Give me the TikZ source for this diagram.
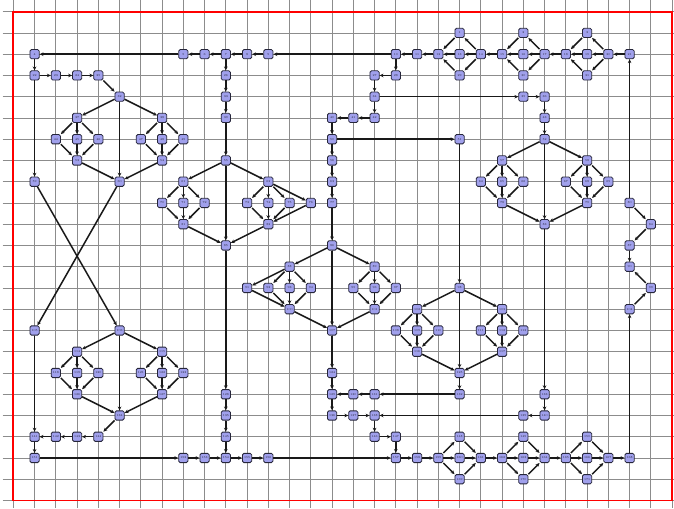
\documentclass[tikz,border=0pt]{standalone}
\usepackage{xcolor}
\usepackage{tikz}
\usetikzlibrary{arrows.meta}
\definecolor{blkfill}{HTML}{A0A0EC}
\definecolor{blkline}{HTML}{26263A}

\tikzset{
  blk/.style={draw=blkline, fill=blkfill, rounded corners=1pt, line width=0.55pt,
              minimum size=6.2pt, inner sep=0pt, text=blkline,
              font=\fontsize{2}{2}\selectfont},
  flow/.style={-{Stealth[length=2.6pt,width=2.4pt]}, line width=1pt, black!90},
  gridline/.style={gray!90, line width=0.55pt},
  frame/.style={red, line width=1.1pt},
}

\begin{document}
\begin{tikzpicture}[x=0.5cm, y=0.5cm]
\useasboundingbox (-0.626,0.551) rectangle (31.09,-23.355);

\foreach \k in {0,...,31}
  \draw[gridline] (\k,0.551) -- (\k,-23.355);
\foreach \k in {0,...,23}
  \draw[gridline] (-0.5,-\k) -- (31.09,-\k);

% blocks, named after their column and row
\foreach \cx/\ry [count=\i] in {
  21/1, 24/1, 27/1,
  1/2, 8/2, 9/2, 10/2, 11/2, 12/2, 18/2, 19/2, 20/2, 21/2, 22/2, 23/2, 24/2, 25/2, 26/2, 27/2, 28/2, 29/2,
  1/3, 2/3, 3/3, 4/3, 10/3, 17/3, 18/3, 21/3, 24/3, 27/3,
  5/4, 10/4, 17/4, 24/4, 25/4,
  3/5, 7/5, 10/5, 15/5, 16/5, 17/5, 25/5,
  2/6, 3/6, 4/6, 6/6, 7/6, 8/6, 15/6, 21/6, 25/6,
  3/7, 7/7, 10/7, 15/7, 23/7, 27/7,
  1/8, 5/8, 8/8, 12/8, 15/8, 22/8, 23/8, 24/8, 26/8, 27/8, 28/8,
  7/9, 8/9, 9/9, 11/9, 12/9, 13/9, 14/9, 15/9, 23/9, 27/9, 29/9,
  8/10, 12/10, 25/10, 30/10,
  10/11, 15/11, 29/11,
  13/12, 17/12, 29/12,
  11/13, 12/13, 13/13, 14/13, 16/13, 17/13, 18/13, 21/13, 30/13,
  13/14, 17/14, 19/14, 23/14, 29/14,
  1/15, 5/15, 15/15, 18/15, 19/15, 20/15, 22/15, 23/15, 24/15,
  3/16, 7/16, 19/16, 23/16,
  2/17, 3/17, 4/17, 6/17, 7/17, 8/17, 15/17, 21/17,
  3/18, 7/18, 10/18, 15/18, 16/18, 17/18, 21/18, 25/18,
  5/19, 10/19, 15/19, 16/19, 17/19, 24/19, 25/19,
  1/20, 2/20, 3/20, 4/20, 10/20, 17/20, 18/20, 21/20, 24/20, 27/20,
  1/21, 8/21, 9/21, 10/21, 11/21, 12/21, 18/21, 19/21, 20/21, 21/21, 22/21, 23/21, 24/21, 25/21, 26/21, 27/21, 28/21, 29/21,
  21/22, 24/22, 27/22}
  \node[blk] (c\cx r\ry) at (\cx,-\ry) {\i};

% top row, right to left
\foreach \a/\b in {
  c29r2/c28r2, c28r2/c27r1, c28r2/c27r2, c28r2/c27r3, c27r1/c26r2, c27r2/c26r2, c27r3/c26r2,
  c26r2/c25r2, c25r2/c24r1, c25r2/c24r2, c25r2/c24r3, c24r1/c23r2, c24r2/c23r2, c24r3/c23r2,
  c23r2/c22r2, c22r2/c21r1, c22r2/c21r2, c22r2/c21r3, c21r1/c20r2, c21r2/c20r2, c21r3/c20r2,
  c20r2/c19r2, c19r2/c18r2, c18r2/c12r2, c12r2/c11r2, c11r2/c10r2, c10r2/c9r2, c9r2/c8r2, c8r2/c1r2}
  \draw[flow] (\a) -- (\b);

% left half
\foreach \a/\b in {
  c1r2/c1r3, c1r3/c2r3, c2r3/c3r3, c3r3/c4r3, c4r3/c5r4, c5r4/c3r5, c5r4/c7r5, c5r4/c5r8,
  c3r5/c2r6, c3r5/c3r6, c3r5/c4r6, c2r6/c3r7, c3r6/c3r7, c4r6/c3r7,
  c7r5/c6r6, c7r5/c7r6, c7r5/c8r6, c6r6/c7r7, c7r6/c7r7, c8r6/c7r7,
  c3r7/c5r8, c7r7/c5r8, c1r3/c1r8, c1r8/c5r15, c5r8/c1r15,
  c5r15/c3r16, c5r15/c7r16, c5r15/c5r19,
  c3r16/c2r17, c3r16/c3r17, c3r16/c4r17, c2r17/c3r18, c3r17/c3r18, c4r17/c3r18,
  c7r16/c6r17, c7r16/c7r17, c7r16/c8r17, c6r17/c7r18, c7r17/c7r18, c8r17/c7r18,
  c3r18/c5r19, c7r18/c5r19, c5r19/c4r20, c4r20/c3r20, c3r20/c2r20, c2r20/c1r20,
  c1r15/c1r20, c1r20/c1r21, c1r21/c8r21, c8r21/c9r21, c9r21/c10r21,
  c10r21/c11r21, c11r21/c12r21, c12r21/c18r21,
  c10r2/c10r3, c10r3/c10r4, c10r4/c10r5, c10r5/c10r7, c10r7/c8r8, c10r7/c12r8, c10r7/c10r11,
  c8r8/c7r9, c8r8/c8r9, c8r8/c9r9, c7r9/c8r10, c8r9/c8r10, c9r9/c8r10, c8r10/c10r11,
  c12r8/c11r9, c12r8/c12r9, c12r8/c13r9, c12r8/c14r9,
  c11r9/c12r10, c12r9/c12r10, c13r9/c12r10, c14r9/c12r10, c12r10/c10r11,
  c10r11/c10r18, c10r18/c10r19, c10r19/c10r20, c10r20/c10r21}
  \draw[flow] (\a) -- (\b);

% middle
\foreach \a/\b in {
  c18r2/c18r3, c18r3/c17r3, c17r3/c17r4, c17r4/c24r4, c24r4/c25r4, c25r4/c25r5, c25r5/c25r6,
  c17r4/c17r5, c17r5/c16r5, c16r5/c15r5, c15r5/c15r6, c15r6/c21r6,
  c15r6/c15r7, c15r7/c15r8, c15r8/c15r9, c15r9/c15r11,
  c15r11/c13r12, c15r11/c17r12, c15r11/c15r15,
  c13r12/c11r13, c13r12/c12r13, c13r12/c13r13, c13r12/c14r13,
  c11r13/c13r14, c12r13/c13r14, c13r13/c13r14, c14r13/c13r14, c13r14/c15r15,
  c17r12/c16r13, c17r12/c17r13, c17r12/c18r13,
  c16r13/c17r14, c17r13/c17r14, c18r13/c17r14, c17r14/c15r15,
  c15r15/c15r17, c15r17/c15r18, c15r18/c15r19, c17r18/c16r18, c16r18/c15r18,
  c15r19/c16r19, c16r19/c17r19, c17r19/c17r20, c17r20/c18r20, c18r20/c18r21}
  \draw[flow] (\a) -- (\b);

% right half
\foreach \a/\b in {
  c25r6/c23r7, c25r6/c27r7, c25r6/c25r10,
  c23r7/c22r8, c23r7/c23r8, c23r7/c24r8, c22r8/c23r9, c23r8/c23r9, c24r8/c23r9, c23r9/c25r10,
  c27r7/c26r8, c27r7/c27r8, c27r7/c28r8, c26r8/c27r9, c27r8/c27r9, c28r8/c27r9, c27r9/c25r10,
  c25r10/c25r18, c25r18/c25r19, c25r19/c24r19, c24r19/c17r19,
  c21r6/c21r13, c21r13/c19r14, c21r13/c23r14, c21r13/c21r17,
  c19r14/c18r15, c19r14/c19r15, c19r14/c20r15, c18r15/c19r16, c19r15/c19r16, c20r15/c19r16, c19r16/c21r17,
  c23r14/c22r15, c23r14/c23r15, c23r14/c24r15, c22r15/c23r16, c23r15/c23r16, c24r15/c23r16, c23r16/c21r17,
  c21r17/c21r18, c21r18/c17r18}
  \draw[flow] (\a) -- (\b);

% bottom row, left to right, and back up the right edge
\foreach \a/\b in {
  c18r21/c19r21, c19r21/c20r21, c20r21/c21r20, c20r21/c21r21, c20r21/c21r22,
  c21r20/c22r21, c21r21/c22r21, c21r22/c22r21, c22r21/c23r21,
  c23r21/c24r20, c23r21/c24r21, c23r21/c24r22, c24r20/c25r21, c24r21/c25r21, c24r22/c25r21,
  c25r21/c26r21, c26r21/c27r20, c26r21/c27r21, c26r21/c27r22,
  c27r20/c28r21, c27r21/c28r21, c27r22/c28r21, c28r21/c29r21,
  c29r21/c29r14, c29r14/c30r13, c30r13/c29r12, c29r11/c29r12, c30r10/c29r11, c29r9/c30r10, c29r9/c29r2}
  \draw[flow] (\a) -- (\b);

\draw[frame] (0,0) rectangle (31,-23);
\end{tikzpicture}
\end{document}
